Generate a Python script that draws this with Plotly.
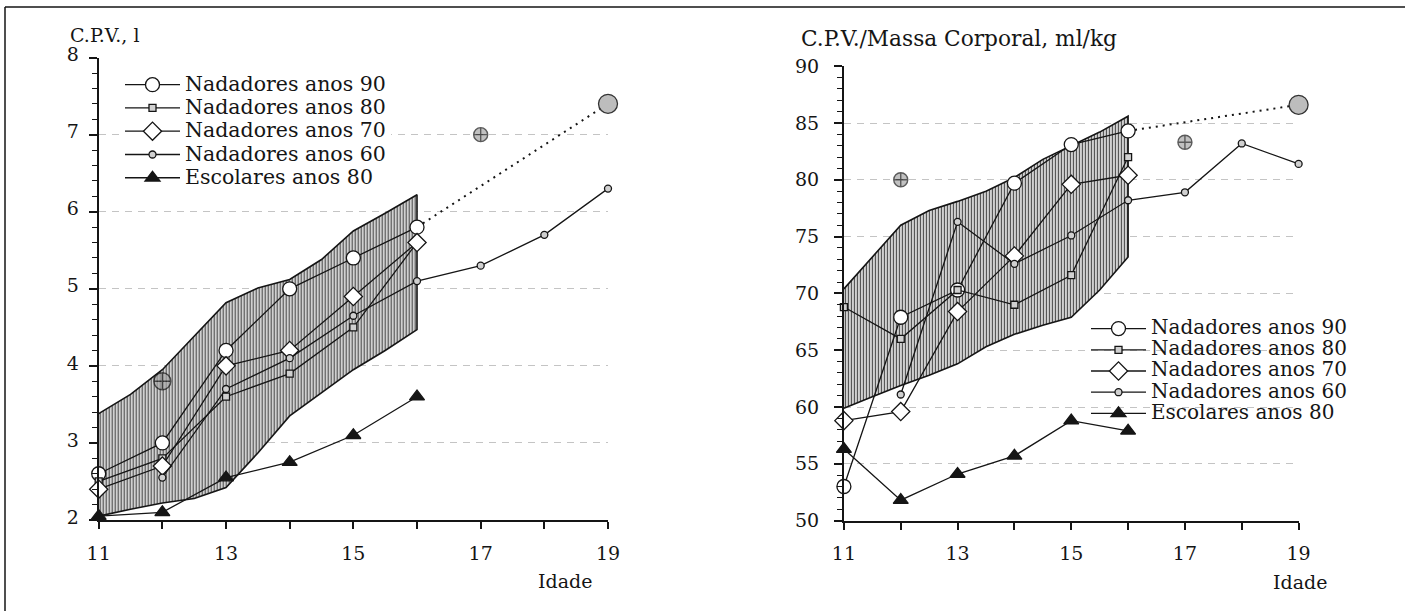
import plotly.graph_objects as go

# ---------------------------------------------------------------- data
ages = [11, 12, 13, 14, 15, 16]
ages_60 = [12, 13, 14, 15, 16, 17, 18, 19]
band_ages = [11, 11.5, 12, 12.5, 13, 13.5, 14, 14.5, 15, 15.5, 16]
ref_ages = [12, 17]
proj_ages = [16, 19]

x_ticks = [11, 12, 13, 14, 15, 16, 17, 18, 19]
x_labels = ["11", "", "13", "", "15", "", "17", "", "19"]

series_names = [
    "Nadadores anos 90",
    "Nadadores anos 80",
    "Nadadores anos 70",
    "Nadadores anos 60",
    "Escolares anos 80",
]

# C.P.V., l
cpv_90 = [2.6, 3.0, 4.2, 5.0, 5.4, 5.8]
cpv_80 = [2.5, 2.8, 3.6, 3.9, 4.5, 5.6]
cpv_70 = [2.4, 2.7, 4.0, 4.2, 4.9, 5.6]
cpv_60 = [2.55, 3.7, 4.1, 4.65, 5.1, 5.3, 5.7, 6.3]
cpv_esc = [2.05, 2.1, 2.55, 2.75, 3.1, 3.6]
cpv_band_hi = [3.38, 3.63, 3.95, 4.38, 4.82, 5.01, 5.12, 5.38, 5.75, 5.98, 6.22]
cpv_band_lo = [2.05, 2.14, 2.22, 2.28, 2.42, 2.87, 3.35, 3.65, 3.95, 4.2, 4.47]
cpv_ref = [3.8, 7.0]
cpv_proj = 7.4

# C.P.V./Massa Corporal, ml/kg
mass_90 = [53.0, 67.9, 70.3, 79.7, 83.1, 84.3]
mass_80 = [68.8, 66.0, 70.3, 69.0, 71.6, 82.0]
mass_70 = [58.8, 59.6, 68.4, 73.3, 79.6, 80.4]
mass_60 = [61.1, 76.3, 72.6, 75.1, 78.2, 78.9, 83.2, 81.4]
mass_esc = [56.3, 51.8, 54.1, 55.7, 58.8, 57.9]
mass_band_hi = [70.4, 73.2, 76.0, 77.3, 78.1, 79.0, 80.2, 81.8, 83.0, 84.2, 85.6]
mass_band_lo = [59.9, 60.9, 61.9, 62.8, 63.8, 65.3, 66.4, 67.2, 67.9, 70.3, 73.2]
mass_ref = [80.0, 83.3]
mass_proj = 86.6

# ---------------------------------------------------------------- styles
FONT = "DejaVu Serif"
INK = "#151515"
W, H = 1405, 611

styles = [
    dict(symbol="circle", size=14, color="white"),
    dict(symbol="square", size=7, color="#d0d0d0"),
    dict(symbol="diamond", size=14, color="white"),
    dict(symbol="circle", size=7, color="#d0d0d0"),
    dict(symbol="triangle-up", size=13, color=INK),
]

fig = go.Figure()


def label(name, px):
    return (f"<span style=\"font-family:'{FONT}',serif;font-size:{px}px\">"
            f"{name}</span>")


def add_panel(xa, ya, legend, values, ages_list, band_hi, band_lo, ref, proj,
              ref_sizes, text_px):
    # hatched range band
    fig.add_trace(go.Scatter(
        x=band_ages + band_ages[::-1], y=band_hi + band_lo[::-1],
        xaxis=xa, yaxis=ya, mode="lines", fill="toself",
        line=dict(color=INK, width=1.6),
        fillpattern=dict(shape="|", size=3, solidity=0.42,
                         fgcolor="#4a4a4a", bgcolor="#e4e4e4",
                         fillmode="replace"),
        showlegend=False, hoverinfo="skip"))
    # dotted projection from the 90s series to age 19
    fig.add_trace(go.Scatter(
        x=proj_ages, y=[values[0][-1], proj], xaxis=xa, yaxis=ya,
        mode="lines", line=dict(color=INK, width=2, dash="2px,5px"),
        showlegend=False, hoverinfo="skip"))
    for name, st, yv, xs in zip(series_names, styles, values, ages_list):
        fig.add_trace(go.Scatter(
            x=xs, y=yv, xaxis=xa, yaxis=ya, mode="lines+markers",
            name=label(name, text_px), legend=legend, cliponaxis=False,
            line=dict(color=INK, width=1.3),
            marker=dict(symbol=st["symbol"], size=st["size"], color=st["color"],
                        line=dict(color=INK, width=1.3))))
    # reference values
    fig.add_trace(go.Scatter(
        x=ref_ages, y=ref, xaxis=xa, yaxis=ya, mode="markers",
        cliponaxis=False, showlegend=False, hoverinfo="skip",
        marker=dict(symbol="circle-cross", size=ref_sizes, color="#a8a8a8",
                    line=dict(color=INK, width=1.4))))
    fig.add_trace(go.Scatter(
        x=[proj_ages[-1]], y=[proj], xaxis=xa, yaxis=ya, mode="markers",
        cliponaxis=False, showlegend=False, hoverinfo="skip",
        marker=dict(symbol="circle", size=19, color="#bdbdbd",
                    line=dict(color="#333333", width=1.3))))


add_panel("x", "y", "legend",
          [cpv_90, cpv_80, cpv_70, cpv_60, cpv_esc],
          [ages, ages, ages, ages_60, ages],
          cpv_band_hi, cpv_band_lo, cpv_ref, cpv_proj, [17, 14], 20.5)
add_panel("x2", "y2", "legend2",
          [mass_90, mass_80, mass_70, mass_60, mass_esc],
          [ages, ages, ages, ages_60, ages],
          mass_band_hi, mass_band_lo, mass_ref, mass_proj, [14, 14], 20)

tick_font = dict(family=FONT, size=19, color=INK)
xa_common = dict(range=[11, 19], tickvals=x_ticks, ticktext=x_labels,
                 showline=True, linecolor=INK, linewidth=2, ticks="outside",
                 ticklen=7, tickwidth=1.5, tickcolor=INK, showgrid=False,
                 zeroline=False, tickfont=tick_font, ticklabelstandoff=8,
                 automargin=False)
ya_common = dict(showline=True, linecolor=INK, linewidth=2, ticks="outside",
                 ticklen=8, tickwidth=1.5, tickcolor=INK, zeroline=False,
                 showgrid=True, gridcolor="#c4c4c4", gridwidth=1.2,
                 griddash="7px,6px", tickfont=tick_font, automargin=False)

fig.update_layout(
    width=W, height=H, margin=dict(l=0, r=0, t=0, b=0, autoexpand=False),
    paper_bgcolor="white", plot_bgcolor="white",
    font=dict(family=FONT, color=INK),
    xaxis=dict(domain=[98.7 / W, 608 / W], anchor="y", **xa_common),
    yaxis=dict(domain=[(H - 520) / H, (H - 57.6) / H], anchor="x",
               range=[2, 8], dtick=1, ticklabelstandoff=6, ticklabelshift=-3,
               minor=dict(dtick=0.2, ticklen=5, ticks="outside",
                          tickcolor=INK, tickwidth=1.2, showgrid=False),
               **ya_common),
    xaxis2=dict(domain=[843.9 / W, 1298.6 / W], anchor="y2", **xa_common),
    yaxis2=dict(domain=[(H - 520.6) / H, (H - 66.2) / H], anchor="x2",
                range=[50, 90], dtick=5, ticklabelstandoff=11,
                minor=dict(dtick=1, ticklen=5, ticks="outside",
                           tickcolor=INK, tickwidth=1.2, showgrid=False),
                **ya_common),
    legend=dict(x=120 / W, y=(H - 68) / H, xanchor="left", yanchor="top",
                bgcolor="white", borderwidth=0, itemwidth=55,
                font=dict(family=FONT, size=15.6, color=INK), tracegroupgap=0),
    legend2=dict(x=1086 / W, y=(H - 313) / H, xanchor="left", yanchor="top",
                 bgcolor="rgba(255,255,255,0)", borderwidth=0, itemwidth=55,
                 font=dict(family=FONT, size=14, color=INK), tracegroupgap=0),
    showlegend=True,
    annotations=[
        dict(text="C.P.V., l", x=68 / W, y=(H - 35) / H, xref="paper",
             yref="paper", xanchor="left", yanchor="middle", showarrow=False,
             font=dict(family=FONT, size=19, color=INK)),
        dict(text="C.P.V./Massa Corporal, ml/kg", x=799 / W, y=(H - 39) / H,
             xref="paper", yref="paper", xanchor="left", yanchor="middle",
             showarrow=False, font=dict(family=FONT, size=21.7, color=INK)),
        dict(text="Idade", x=594 / W, y=(H - 581) / H, xref="paper",
             yref="paper", xanchor="right", yanchor="middle", showarrow=False,
             font=dict(family=FONT, size=19, color=INK)),
        dict(text="Idade", x=1329 / W, y=(H - 582) / H, xref="paper",
             yref="paper", xanchor="right", yanchor="middle", showarrow=False,
             font=dict(family=FONT, size=19, color=INK)),
    ],
    shapes=[
        dict(type="line", xref="paper", yref="paper", x0=5 / W, x1=1,
             y0=(H - 7) / H, y1=(H - 7) / H, line=dict(color=INK, width=1.5)),
        dict(type="line", xref="paper", yref="paper", x0=5 / W, x1=5 / W,
             y0=0, y1=(H - 7) / H, line=dict(color=INK, width=1.5)),
    ],
)

fig.write_html("out.html")
